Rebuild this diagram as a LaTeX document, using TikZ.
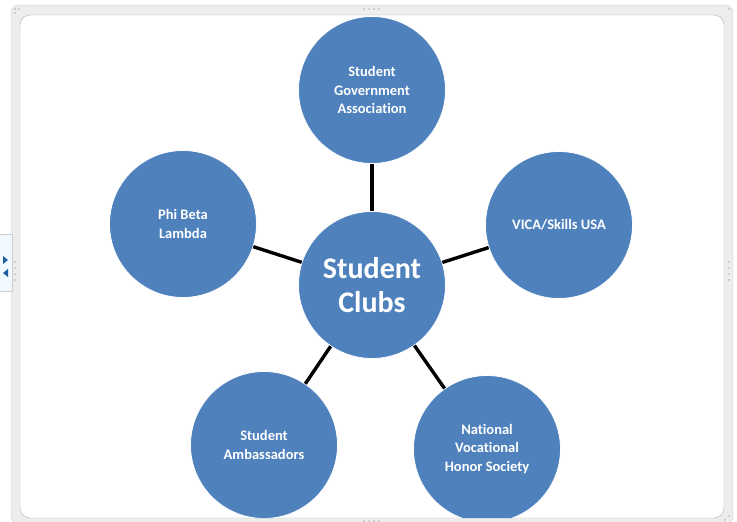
\documentclass[tikz,border=0pt]{standalone}
\usepackage{fontspec}
\setmainfont[Ligatures=NoCommon]{Carlito}
\definecolor{clubblue}{HTML}{4F81BD}
\definecolor{tabblue}{HTML}{1F5FA0}
\begin{document}
\begin{tikzpicture}[x=1pt, y=-1pt,
  club/.style={circle, fill=clubblue, draw=white, line width=0.8pt,
    minimum size=147pt, inner sep=0pt, text=white, align=center,
    font=\bfseries\fontsize{14.5}{18.5}\selectfont},
  hub/.style={club, font=\bfseries\fontsize{30}{34}\selectfont},
  spoke/.style={black, line width=3.4pt},
  grip/.style={fill=black!30}]

  \useasboundingbox (0,0) rectangle (737,522);

  % Frame
  \path [fill=black!7, draw=black!22, rounded corners=8pt] (11,5) rectangle (733,524);
  \path [fill=white, draw=black!30, rounded corners=10pt] (20,15) rectangle (724,518);

  % Grips
  \foreach \x in {364,369,374,379}{%
    \fill [grip] (\x,9) circle (0.9);
    \fill [grip] (\x,521) circle (0.9);
  }
  \foreach \y in {262,268,274,280}{%
    \fill [grip] (15,\y) circle (0.9);
    \fill [grip] (729,\y) circle (0.9);
  }
  \foreach \x/\y in {15/9,19/9,15/13,729/9,729/516,725/520}{%
    \fill [grip] (\x,\y) circle (0.9);
  }

  % Side tab
  \path [fill=cyan!6, draw=black!20] (-1,234) rectangle (12,291);
  \fill [tabblue] (3,256) -- (8,260) -- (3,264) -- cycle;
  \fill [tabblue] (8,269) -- (3,273) -- (8,277) -- cycle;

  % Clubs
  \begin{scope}
    \clip [rounded corners=10pt] (20,15) rectangle (724,518);
    \node [hub] (clubs) at (372,285) {Student\\Clubs};
    \node [club] (sga) at (372,90) {Student\\Government\\Association};
    \node [club] (vica) at (559,225) {VICA/Skills USA};
    \node [club] (pbl) at (183,224) {Phi Beta\\Lambda};
    \node [club] (amb) at (264,445) {Student\\Ambassadors};
    \node [club] (nvhs) at (487,449) {National\\Vocational\\Honor Society};

    % Spokes
    \foreach \c in {sga,vica,pbl,amb,nvhs}{%
      \draw [spoke] (clubs) -- (\c);
    }
  \end{scope}

\end{tikzpicture}
\end{document}
